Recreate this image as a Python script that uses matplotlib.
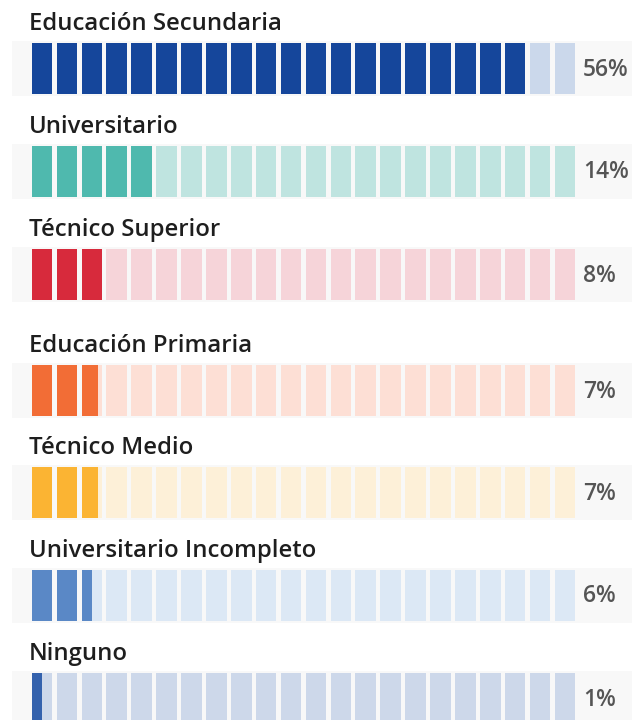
import matplotlib.pyplot as plt

# categories, labels and how many blocks are filled
categories = ["Educación Secundaria", "Universitario", "Técnico Superior",
              "Educación Primaria", "Técnico Medio", "Universitario Incompleto",
              "Ninguno"]
percent_labels = ["56%", "14%", "8%", "7%", "7%", "6%", "1%"]
filled_blocks = [20.0, 5.0, 3.0, 2.78, 2.78, 2.5, 0.5]
n_blocks = 22

dark_colors = ["#15469b", "#4fb9ae", "#d72a3c", "#f26d36", "#fbb433",
               "#5a88c6", "#3462ad"]
light_colors = ["#cbd8eb", "#bfe4e0", "#f6d4d9", "#fddfd5", "#fdf0d8",
                "#dce8f5", "#cdd8ea"]

# layout (pixels from top)
row_tops = [43, 146, 249, 365, 467, 570, 673]
bar_h = 51
pitch = 24.9     # px per block
block_w = 20.6   # px
x0 = 31.7        # px where first block starts


def px(x):
    # pixel x -> block units
    return (x - x0) / pitch


fig = plt.figure(figsize=(6.32, 7.2), dpi=100)
ax = fig.add_axes([0, 0, 1, 1])
ax.set_xlim(px(0), px(632))
ax.set_ylim(720, 0)
ax.axis("off")

font = ["Open Sans", "DejaVu Sans"]

for i, cat in enumerate(categories):
    top = row_tops[i]
    # faint background band
    ax.bar(px(12), bar_h + 4, width=px(632) - px(12), bottom=top - 2,
           align="edge", color="#f8f8f8", zorder=0)
    # light blocks
    ax.bar(range(n_blocks), [bar_h] * n_blocks, width=block_w / pitch,
           bottom=top, align="edge", color=light_colors[i], zorder=1)
    # filled blocks
    full = int(filled_blocks[i])
    part = filled_blocks[i] - full
    ax.bar(range(full), [bar_h] * full, width=block_w / pitch,
           bottom=top, align="edge", color=dark_colors[i], zorder=2)
    if part > 0:
        ax.bar(full, bar_h, width=part * block_w / pitch, bottom=top,
               align="edge", color=dark_colors[i], zorder=2)

    ax.text(px(29), top - 13, cat, ha="left", va="baseline",
            fontsize=17.2, fontweight=600, color="#1e1e1e", family=font)
    ax.text(px(583), top + bar_h / 2 + 1, percent_labels[i], ha="left",
            va="center", fontsize=16.5, fontweight=600, color="#555555",
            family=font)

fig.savefig("out.png", dpi=100, facecolor="white")
